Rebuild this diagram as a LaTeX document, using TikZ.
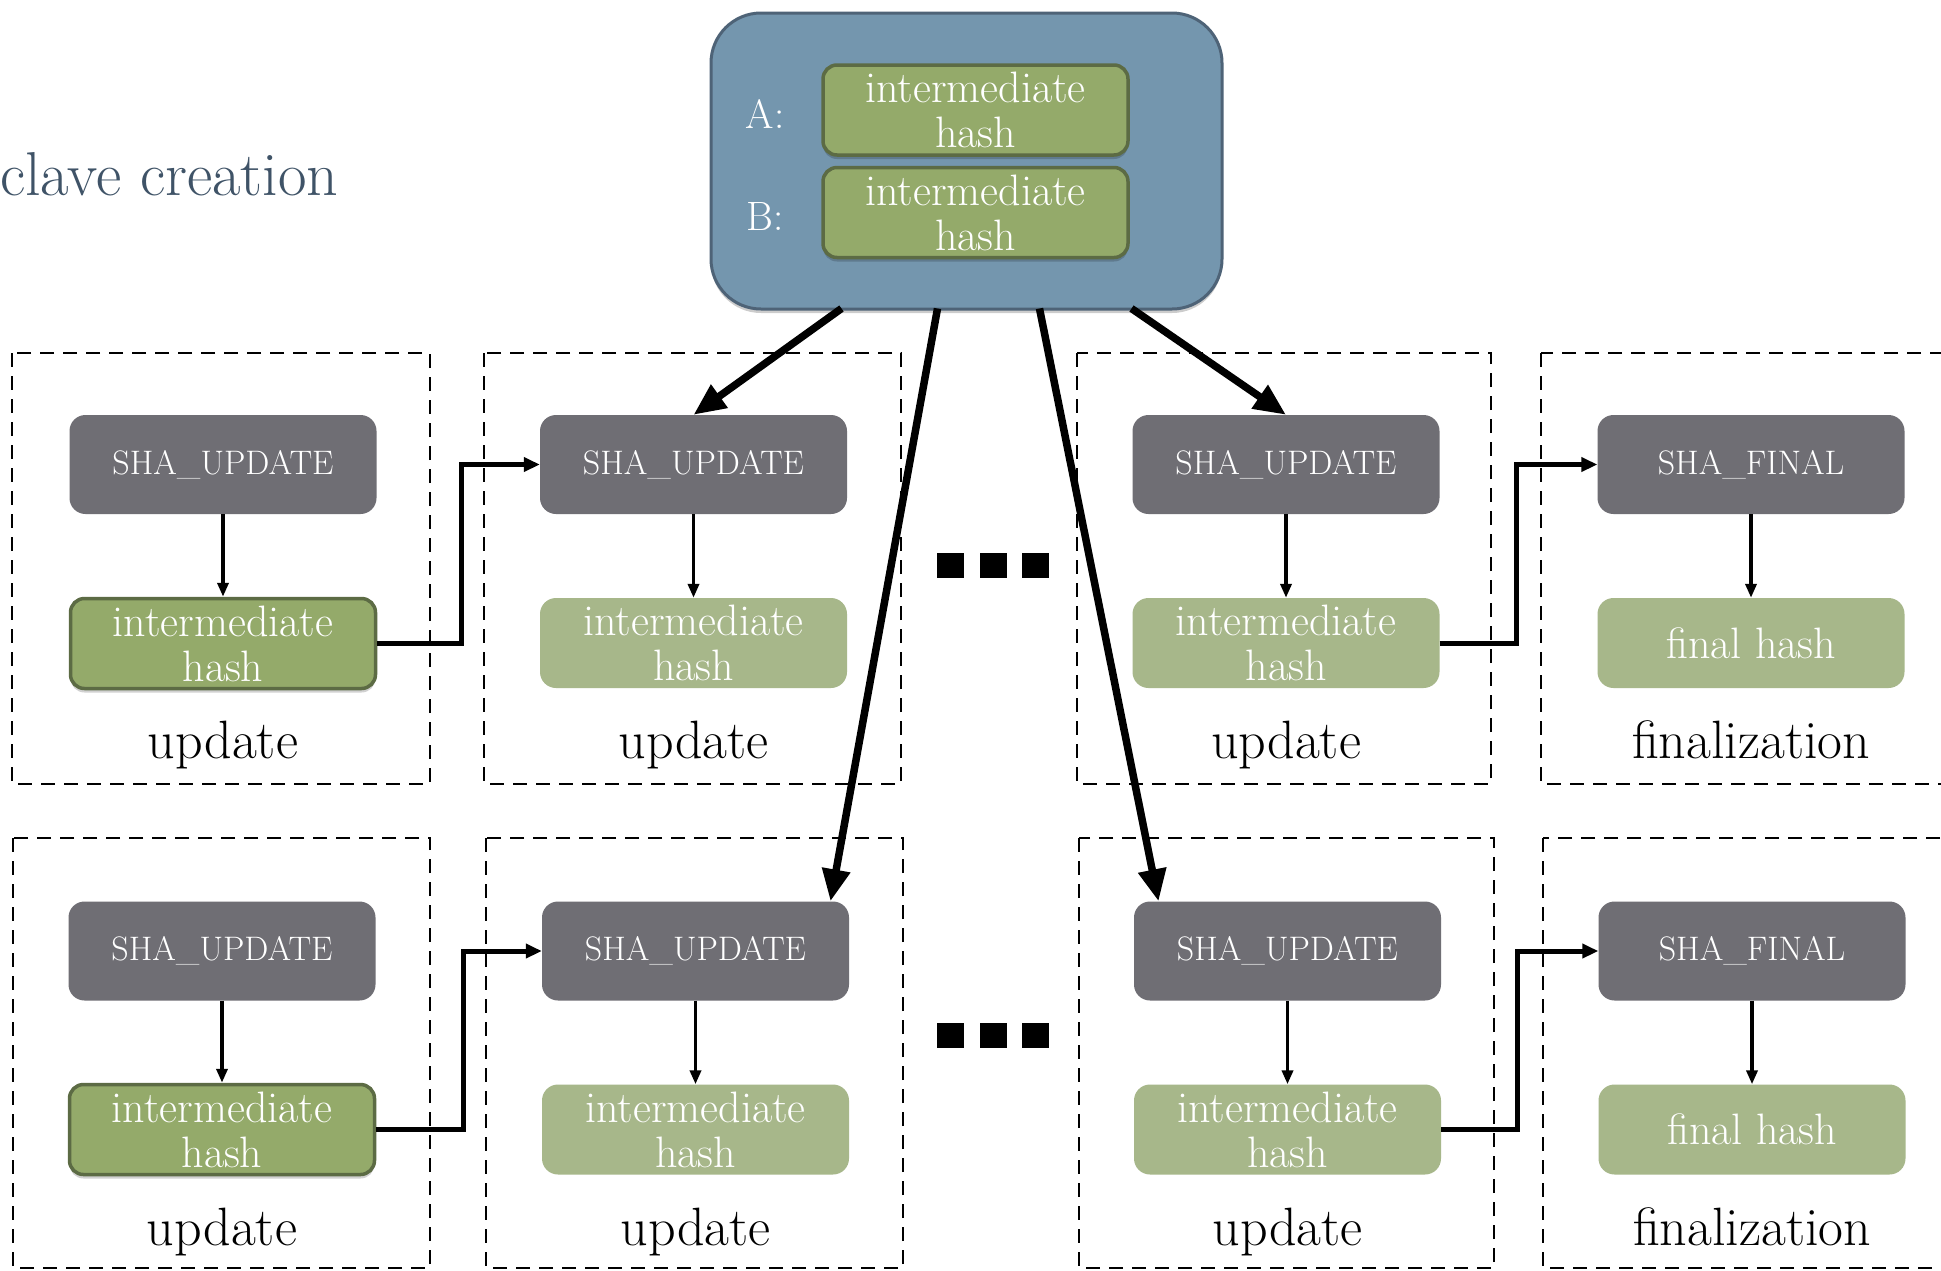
\documentclass[tikz,border=0pt]{standalone}
\usetikzlibrary{arrows.meta,shadows,calc}
\definecolor{graybox}{HTML}{6F6E74}
\definecolor{lightgreen}{HTML}{A7B78A}
\definecolor{darkgreen}{HTML}{94AA6A}
\definecolor{darkgreenborder}{HTML}{5C6B44}
\definecolor{bluebox}{HTML}{7496AE}
\definecolor{blueborder}{HTML}{4E6377}
\definecolor{titlecol}{HTML}{3F5367}
\begin{document}
\begin{tikzpicture}[x=1pt,y=-1pt,
  cmd/.style={fill=graybox, rounded corners=16pt, minimum width=307pt, minimum height=99pt, inner sep=0pt, text=white, font=\fontsize{34}{40}\selectfont},
  lhash/.style={fill=lightgreen, rounded corners=16pt, minimum width=307pt, minimum height=90pt, inner sep=0pt, text=white, align=center, font=\fontsize{44}{45}\selectfont},
  dhash/.style={fill=darkgreen, draw=darkgreenborder, line width=3.5pt, rounded corners=14pt, minimum width=305pt, minimum height=90pt, inner sep=0pt, text=white, align=center, font=\fontsize{44}{45}\selectfont, drop shadow={shadow xshift=0pt, shadow yshift=-4pt, opacity=0.18, fill=black}},
  encbox/.style={fill=bluebox, draw=blueborder, line width=3pt, rounded corners=50pt, minimum width=511pt, minimum height=296pt, inner sep=0pt, drop shadow={shadow xshift=0pt, shadow yshift=-4pt, opacity=0.2, fill=black}},
  lbl/.style={anchor=base, inner sep=0pt, font=\fontsize{54}{64}\selectfont},
  ablbl/.style={anchor=base, inner sep=0pt, text=white, font=\fontsize{41}{48}\selectfont},
  frame/.style={draw=black, line width=2.5pt, dash pattern=on 14pt off 9pt},
  bigarrow/.style={draw=black, line width=7.5pt, -{Triangle[length=32pt,width=27pt]}},
  elbow/.style={draw=black, line width=5pt, -{Triangle[length=16pt,width=14pt]}},
  down/.style={draw=black, line width=3.5pt, -{Triangle[length=14pt,width=11pt]}},
  dotsq/.style={fill=black}
]
\useasboundingbox (0,0) rectangle (1941,1270);
\clip (0,0) rectangle (1941,1270);
\fill[white] (0,0) rectangle (1941,1270);

% title fragment
\node[anchor=base west, inner sep=0pt, text=titlecol, font=\fontsize{62}{72}\selectfont] (title) at (0,195) {clave creation};

% dashed frames
\draw[frame] (12,353) rectangle (430,784);
\draw[frame] (484,353) rectangle (901,784);
\draw[frame] (1077,353) rectangle (1491,784);
\draw[frame] (1541,353) rectangle (1990,784);
\draw[frame] (13,838) rectangle (430,1268);
\draw[frame] (486,838) rectangle (903,1268);
\draw[frame] (1079,838) rectangle (1494,1268);
\draw[frame] (1543,838) rectangle (1990,1268);

% enclave box
\node[encbox] (enc) at (966.5,161) {};
\node[dhash] (ha) at (975.5,110) {intermediate\\hash};
\node[dhash] (hb) at (975.5,212.5) {intermediate\\hash};
\node[ablbl] (la) at (765,128) {A:};
\node[ablbl] (lb) at (765,230) {B:};

% row 1
\node[cmd] (u11) at (223,464.5) {SHA\_UPDATE};
\node[dhash] (h11) at (223,643.5) {intermediate\\hash};
\node[lbl] (t11) at (223,758) {update};
\node[cmd] (u12) at (693.5,464.5) {SHA\_UPDATE};
\node[lhash] (h12) at (693.5,643) {intermediate\\hash};
\node[lbl] (t12) at (693.5,758) {update};
\node[cmd] (u13) at (1286,464.5) {SHA\_UPDATE};
\node[lhash] (h13) at (1286,643) {intermediate\\hash};
\node[lbl] (t13) at (1286,758) {update};
\node[cmd] (u14) at (1751,464.5) {SHA\_FINAL};
\node[lhash] (h14) at (1751,643) {final hash};
\node[lbl] (t14) at (1751,758) {finalization};

% row 2
\node[cmd] (u21) at (222,951) {SHA\_UPDATE};
\node[dhash] (h21) at (222,1129.5) {intermediate\\hash};
\node[lbl] (t21) at (222,1245) {update};
\node[cmd] (u22) at (695.5,951) {SHA\_UPDATE};
\node[lhash] (h22) at (695.5,1129.5) {intermediate\\hash};
\node[lbl] (t22) at (695.5,1245) {update};
\node[cmd] (u23) at (1287.5,951) {SHA\_UPDATE};
\node[lhash] (h23) at (1287.5,1129.5) {intermediate\\hash};
\node[lbl] (t23) at (1287.5,1245) {update};
\node[cmd] (u24) at (1752,951) {SHA\_FINAL};
\node[lhash] (h24) at (1752,1129.5) {final hash};
\node[lbl] (t24) at (1752,1245) {finalization};

% vertical arrows
\foreach \r in {1,2}{
  \foreach \c in {1,2,3,4}{
    \draw[down] (u\r\c.south) -- (h\r\c.north);
  }
}

% elbow arrows
\draw[elbow] (h11.east) -- ++(84,0) |- (u12.west);
\draw[elbow] (h13.east) -- ++(77,0) |- (u14.west);
\draw[elbow] (h21.east) -- ++(87,0) |- (u22.west);
\draw[elbow] (h23.east) -- ++(76,0) |- (u24.west);

% dots
\foreach \yy in {553,1023}{
  \fill[dotsq] (937,\yy) rectangle ++(27,25);
  \fill[dotsq] (980,\yy) rectangle ++(27,25);
  \fill[dotsq] (1022,\yy) rectangle ++(27,25);
}

% thick arrows from enclave
\draw[bigarrow] ($(enc.south west)+(132,-2)$) -- (u12.north);
\draw[bigarrow] ($(enc.south west)+(228,-2)$) -- ($(u22.north)+(135,0)$);
\draw[bigarrow] ($(enc.south west)+(330,-2)$) -- ($(u23.north)+(-129,0)$);
\draw[bigarrow] ($(enc.south west)+(422,-2)$) -- (u13.north);
\end{tikzpicture}
\end{document}
